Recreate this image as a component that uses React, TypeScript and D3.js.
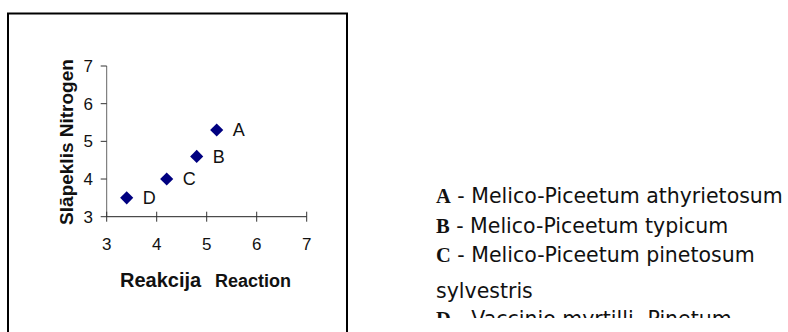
import React from "react";
import * as d3 from "d3";

const labels = ["A", "B", "C", "D"];
const reaction = [5.2, 4.8, 4.2, 3.4];
const nitrogen = [5.3, 4.6, 4.0, 3.5];
const xTicks = [3, 4, 5, 6, 7];
const yTicks = [3, 4, 5, 6, 7];
const legendLetters = ["A", "B", "C", "", "D"];
const legendTexts = [
  " - Melico-Piceetum athyrietosum",
  " - Melico-Piceetum typicum",
  " - Melico-Piceetum pinetosum",
  "sylvestris",
  " - Vaccinio myrtilli- Pinetum",
];
const legendBaselines = [203, 233, 262, 298, 326];

const W = 788;
const H = 332;

export default function App() {
  const x = d3.scaleLinear().domain([3, 7]).range([106.7, 306.7]);
  const y = d3.scaleLinear().domain([3, 7]).range([216.7, 66]);
  const diamond = d3.symbol().type(d3.symbolDiamond2).size(110)();
  const sans = "Arial, 'Liberation Sans', sans-serif";

  return (
    <svg
      width={W}
      height={H}
      style={{ position: "absolute", left: 0, top: 0, background: "#fff" }}
      fontFamily={sans}
    >
      <defs>
        <clipPath id="legclip">
          <rect x={400} y={150} width={388} height={168} />
        </clipPath>
      </defs>
      <rect x={0} y={0} width={W} height={H} fill="#fff" />
      <rect x={8} y={13.5} width={339} height={400} fill="none" stroke="#000" strokeWidth={2} />

      {/* axes */}
      <line x1={x(3)} x2={x(3)} y1={y(7)} y2={y(3)} stroke="#666" strokeWidth={1} />
      <line x1={x(3)} x2={x(7)} y1={y(3)} y2={y(3)} stroke="#222" strokeWidth={1} />
      {yTicks.map((t) => (
        <g key={"y" + t}>
          <line x1={x(3) - 6} x2={x(3)} y1={y(t)} y2={y(t)} stroke="#333" />
          <text x={93} y={y(t)} dy="0.36em" textAnchor="end" fontSize={17} fill="#111">
            {t}
          </text>
        </g>
      ))}
      {xTicks.map((t) => (
        <g key={"x" + t}>
          <line x1={x(t)} x2={x(t)} y1={y(3) - 5} y2={y(3) + 5} stroke="#333" />
          <text x={x(t)} y={250} textAnchor="middle" fontSize={17} fill="#111">
            {t}
          </text>
        </g>
      ))}

      {/* points */}
      {labels.map((l, i) => (
        <g key={l}>
          <path
            d={diamond}
            transform={`translate(${x(reaction[i])},${y(nitrogen[i])})`}
            fill="#000080"
          />
          <text
            x={x(reaction[i]) + 16}
            y={y(nitrogen[i]) + 6.3}
            fontSize={18}
            fill="#111"
          >
            {l}
          </text>
        </g>
      ))}

      {/* axis titles */}
      <text x={120} y={287} fontSize={20} fontWeight="bold" fill="#111">
        Reakcija
      </text>
      <text x={215} y={287} fontSize={18} fontWeight="bold" fill="#111">
        Reaction
      </text>
      <text
        transform="translate(73,142) rotate(-90)"
        textAnchor="middle"
        fontSize={19}
        fontWeight="bold"
        fill="#111"
      >
        Slāpeklis Nitrogen
      </text>

      {/* legend */}
      <g clipPath="url(#legclip)">
        {legendTexts.map((t, i) => (
          <text key={i} x={436} y={legendBaselines[i]} fontSize={20.5} fill="#111">
            {legendLetters[i] && (
              <tspan fontFamily="'Liberation Serif', 'Times New Roman', serif" fontWeight="bold">
                {legendLetters[i]}
              </tspan>
            )}
            <tspan fontFamily="'DejaVu Sans'" style={{ whiteSpace: "pre" }}>
              {t}
            </tspan>
          </text>
        ))}
      </g>
    </svg>
  );
}
